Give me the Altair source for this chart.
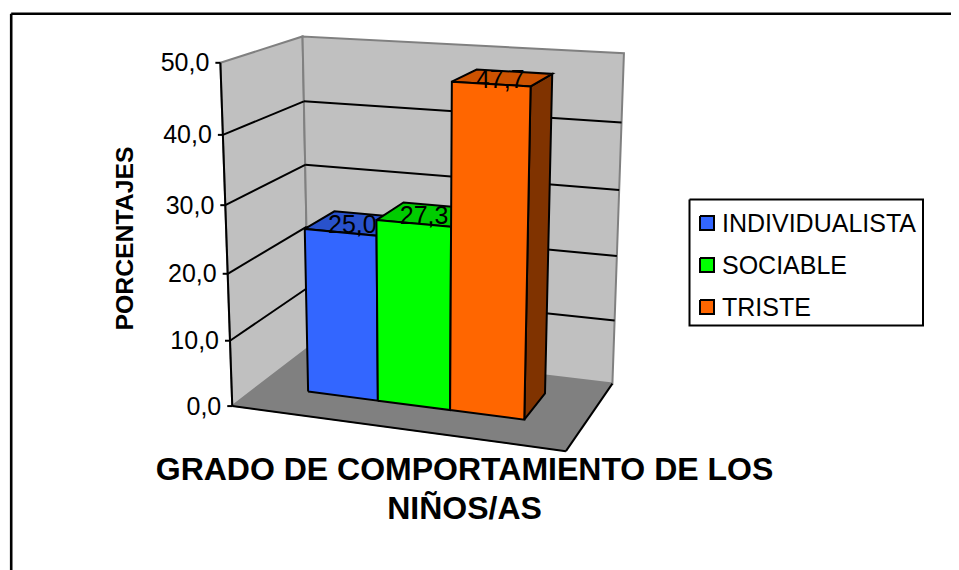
import numpy as np
import pandas as pd
import altair as alt

# ---- data ----
categories = ["INDIVIDUALISTA", "SOCIABLE", "TRISTE"]
values = [25.0, 27.3, 47.7]
value_labels = ["25,0", "27,3", "47,7"]
ticks = [0, 10, 20, 30, 40, 50]
tick_labels = ["0,0", "10,0", "20,0", "30,0", "40,0", "50,0"]
front_colors = ["#3366FF", "#00FF00", "#FF6600"]
top_colors = ["#2952CC", "#00CC00", "#CC5200"]
side_colors = ["#1A3380", "#008000", "#803300"]
y_title = "PORCENTAJES"
x_title = ["GRADO DE COMPORTAMIENTO DE LOS", "NIÑOS/AS"]

# ---- 3D view: depth box (u across, v value, w depth) fitted to the page ----
U_EDGES = [0.16, 0.383, 0.607, 0.83]
W_FRONT, W_BACK = 0.33, 0.73
view_pairs = [
    ((0, 0, 0), (232, 405)), ((0, 50, 0), (221, 62)),
    ((0, 50, 1), (303.5, 36)), ((0, 0, 1), (306.7, 346.7)),
    ((1, 50, 1), (625, 52)), ((1, 0, 1), (612.7, 383)),
    ((1, 0, 0), (566, 451)),
    ((0, 40, 0), (222, 134)), ((0, 20, 0), (227, 272)),
    ((0, 40, 1), (304.5, 102)), ((0, 20, 1), (305.5, 226.5)),
    ((1, 40, 1), (621, 122)), ((1, 20, 1), (615.7, 255)),
    ((U_EDGES[0], 0, W_FRONT), (309, 392.7)),
    ((U_EDGES[1], 0, W_FRONT), (378.3, 400)),
    ((U_EDGES[2], 0, W_FRONT), (450, 410)),
    ((U_EDGES[3], 0, W_FRONT), (525, 420)),
    ((U_EDGES[3], 0, W_BACK), (545, 394.3)),
    ((U_EDGES[0], 25, W_FRONT), (305, 231.7)),
    ((U_EDGES[0], 25, W_BACK), (336, 212.3)),
    ((U_EDGES[1], 27.3, W_FRONT), (377, 221.7)),
    ((U_EDGES[1], 27.3, W_BACK), (405, 202.3)),
    ((U_EDGES[2], 47.7, W_FRONT), (450, 82.3)),
    ((U_EDGES[2], 47.7, W_BACK), (475, 70)),
    ((U_EDGES[3], 47.7, W_FRONT), (530.7, 86.7)),
    ((U_EDGES[3], 47.7, W_BACK), (552.7, 74.3)),
]


def fit_view(pairs):
    X = np.array([[a, b / 50, c, 1.0] for (a, b, c), _ in pairs])
    S = np.array([s for _, s in pairs], float) / 500
    weights = np.ones(len(pairs))
    P = None
    for _ in range(15):
        rows = []
        for Xi, (sx, sy), wt in zip(X, S, weights):
            rows.append(np.r_[Xi, np.zeros(4), -sx * Xi] * wt)
            rows.append(np.r_[np.zeros(4), Xi, -sy * Xi] * wt)
        P = np.linalg.svd(np.array(rows))[2][-1].reshape(3, 4)
        weights = 1 / np.abs(X @ P[2])
    return P


P = fit_view(view_pairs)


def proj(u, v, w):
    h = P @ np.array([u, v / 50, w, 1.0])
    return (float(h[0] / h[2] * 500), float(h[1] / h[2] * 500))


# ---- helpers: page-pixel scales ----
W, H = 943, 562
sx = alt.Scale(domain=[8, 8 + W], range=[0, W])
sy = alt.Scale(domain=[8, 8 + H], range=[0, H])
X = lambda f="x": alt.X(f"{f}:Q", scale=sx, axis=None)
Y = lambda f="y": alt.Y(f"{f}:Q", scale=sy, axis=None)


def poly(points, fill, stroke="#000000", sw=2.0):
    pts = list(points) + [points[0]]
    df = pd.DataFrame({"x": [p[0] for p in pts], "y": [p[1] for p in pts], "o": range(len(pts))})
    return alt.Chart(df).mark_line(fill=fill, stroke=stroke, strokeWidth=sw, strokeJoin="miter", clip=True).encode(
        x=X(), y=Y(), order="o:Q")


def seg(a, b, color="#000000", sw=2.0):
    df = pd.DataFrame({"x": [a[0], b[0]], "y": [a[1], b[1]], "o": [0, 1]})
    return alt.Chart(df).mark_line(color=color, strokeWidth=sw).encode(x=X(), y=Y(), order="o:Q")


def label(text, x, y, size=25, weight="normal", align="center", angle=0):
    df = pd.DataFrame({"x": [x], "y": [y + 1.5], "t": [text]})
    return alt.Chart(df).mark_text(font="Liberation Sans", fontSize=size, fontWeight=weight, align=align,
                                   baseline="middle", angle=angle, color="#000000").encode(
        x=X(), y=Y(), text="t:N")


def box(x0, y0, x1, y1, sw):
    return poly([(x0, y0), (x1, y0), (x1, y1), (x0, y1)], "#FFFFFF", "#000000", sw)


GRAY_EDGE = "#808080"
layers = [box(11.2, 13.8, 1000, 620, 2.6)]

# floor and walls
layers.append(poly([proj(0, 0, 0), proj(1, 0, 0), proj(1, 0, 1), proj(0, 0, 1)], "#808080", "#808080", 1))
layers.append(poly([proj(0, 0, 0), proj(0, 50, 0), proj(0, 50, 1), proj(0, 0, 1)], "#C0C0C0", GRAY_EDGE, 2))
layers.append(poly([proj(0, 0, 1), proj(0, 50, 1), proj(1, 50, 1), proj(1, 0, 1)], "#C0C0C0", GRAY_EDGE, 2))
layers.append(seg(proj(0, 0, 0), proj(1, 0, 0)))
layers.append(seg(proj(1, 0, 0), proj(1, 0, 1)))

# gridlines, axis and ticks
for t in ticks[1:-1]:
    layers.append(seg(proj(0, t, 0), proj(0, t, 1)))
    layers.append(seg(proj(0, t, 1), proj(1, t, 1)))
layers.append(seg(proj(0, 0, 0), proj(0, 50, 0)))
for t, lab in zip(ticks, tick_labels):
    px, py = proj(0, t, 0)
    layers.append(seg((px - 5, py), (px, py)))
    layers.append(label(lab, px - 11, py - 1, align="right"))

# bars
for i, v in enumerate(values):
    u0, u1 = U_EDGES[i], U_EDGES[i + 1]
    layers.append(poly([proj(u1, 0, W_FRONT), proj(u1, v, W_FRONT), proj(u1, v, W_BACK), proj(u1, 0, W_BACK)],
                       side_colors[i]))
    layers.append(poly([proj(u0, v, W_FRONT), proj(u1, v, W_FRONT), proj(u1, v, W_BACK), proj(u0, v, W_BACK)],
                       top_colors[i]))
    layers.append(poly([proj(u0, 0, W_FRONT), proj(u1, 0, W_FRONT), proj(u1, v, W_FRONT), proj(u0, v, W_FRONT)],
                       front_colors[i]))
for i, v in enumerate(values):
    cx, cy = proj((U_EDGES[i] + U_EDGES[i + 1]) / 2, v, (W_FRONT + W_BACK) / 2)
    layers.append(label(value_labels[i], cx - 2.5, cy + 0.5))

# titles
layers.append(label(y_title, 125.5, 237, size=24.8, weight="bold", angle=270))
layers.append(label(x_title[0], 464.5, 468, size=32, weight="bold"))
layers.append(label(x_title[1], 464.5, 507, size=32, weight="bold"))

# legend
layers.append(box(689.5, 199.5, 923, 325.5, 2))
for i, c in enumerate(categories):
    yc = 223 + i * 42
    layers.append(poly([(700, yc - 7), (714, yc - 7), (714, yc + 7), (700, yc + 7)], front_colors[i]))
    layers.append(label(c, 722, yc - 0.5, align="left"))

chart = alt.layer(*layers).properties(
    width=W, height=H, padding=0, autosize=alt.AutoSizeParams(type="none"),
    background="#FFFFFF",
).configure_view(stroke=None)

chart.save("out.html", embed_options={"renderer": "svg", "actions": False})
